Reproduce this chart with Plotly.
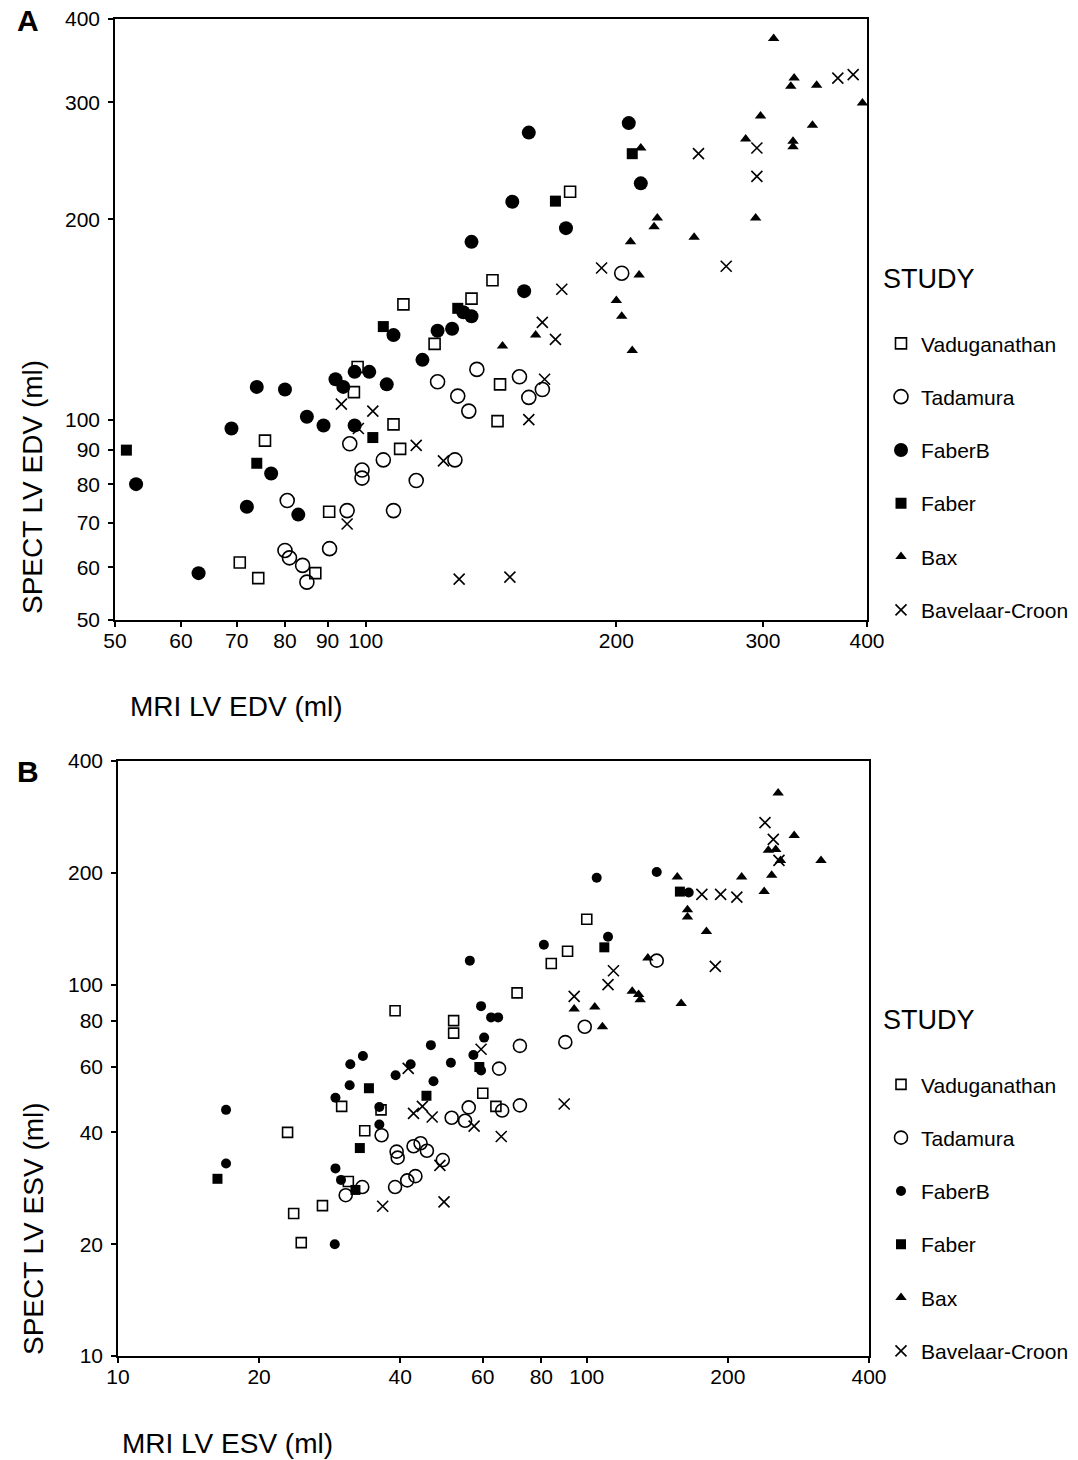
import math
import plotly.graph_objects as go

# ---------------- Data ----------------
studies = ["Vaduganathan", "Tadamura", "FaberB", "Faber", "Bax", "Bavelaar-Croon"]

# Panel A: EDV
vad_a_x = [70.6, 74.3, 75.7, 87, 90.4, 96.8, 97.8, 108, 110, 111, 121, 134, 142, 145, 144, 176]
vad_a_y = [61, 57.8, 93, 58.8, 72.7, 110, 120, 98.4, 90.4, 149, 130, 152, 162, 113, 99.5, 220]

tad_a_x = [80.5, 80, 81, 84, 85, 90.5, 95.7, 95, 99, 99, 105, 108, 115, 122, 129, 133, 136, 128, 153, 157, 163, 203]
tad_a_y = [75.6, 63.6, 62, 60.4, 57, 64, 92, 73, 84, 81.7, 87, 73, 81, 114, 108.5, 103, 119, 87, 116, 108, 111, 166]

fabb_a_x = [53, 63, 69, 74, 72, 77, 80, 83, 85, 89, 92, 94, 97, 97, 101, 106, 117, 122, 127, 108,
            131, 134, 157, 207, 150, 214, 134, 174, 155]
fabb_a_y = [80, 58.8, 97, 112, 74, 83, 111, 72, 101, 98, 115, 112, 118, 98, 118, 113, 123, 136, 137, 134,
            145, 143, 270, 279, 212.5, 226.5, 185, 194, 156]

fab_a_x = [51.6, 74, 102, 105, 129, 169, 209]
fab_a_y = [90, 86, 94, 138, 147, 213, 251]

bax_a_x = [309, 327, 324, 348, 395, 298, 344, 286, 326, 326, 214, 294, 224, 222, 208, 248, 213, 200, 203, 160, 146, 209]
bax_a_y = [374, 326, 317, 318, 299, 286, 277, 264, 262, 257, 256, 201, 201, 195, 185, 188, 165, 151, 143, 134, 129, 127]

bav_a_x = [369, 385, 251, 295, 295, 271, 192, 172, 163, 169, 164, 157, 129.5, 149, 93.5, 102, 98, 95, 115, 124]
bav_a_y = [326, 330, 251, 256, 232, 170, 169, 157, 140, 132, 115, 100, 57.6, 58, 105.5, 103, 97, 69.7, 91.5, 86.7]

# Panel B: ESV
vad_b_x = [39, 52, 52, 71, 100, 91, 84, 60, 64, 30, 36.4, 33.6, 23, 31, 27.3, 23.7, 24.6]
vad_b_y = [85, 80, 74, 95, 150, 123, 114, 51, 47, 47, 46, 40.4, 40, 29.5, 25.4, 24.2, 20.2]

tad_b_x = [72, 65, 99, 90, 141, 72, 66, 56, 51.5, 55, 36.5, 39.3, 39.5, 42.7, 44.2, 45.6, 49.3, 33.2, 30.6, 39, 41.4, 43.1]
tad_b_y = [68.4, 59.4, 77, 70, 116, 47.3, 45.8, 46.7, 43.8, 43, 39.3, 35.5, 34.2, 36.7, 37.4, 35.7, 33.7, 28.5, 27.1, 28.5, 29.7, 30.5]

fabb_b_x = [56.3, 141, 105, 165, 111, 81, 59.5, 62.5, 64.7, 60.4, 46.5, 57.3, 33.3, 31.3, 42.1, 51.3, 59.5, 39.1,
            47.1, 31.2, 29.1, 36.1, 36.1, 29.1, 29.9, 29, 17, 17]
fabb_b_y = [116, 201, 194, 177, 134.5, 128, 87.5, 81.6, 81.6, 72, 68.7, 64.6, 64.2, 61, 61, 61.6, 58.7, 57,
            54.9, 53.6, 49.6, 46.8, 42, 32, 29.8, 20, 46, 33]

fab_b_x = [158, 109, 59, 34.3, 45.5, 32.8, 32.1, 16.3]
fab_b_y = [178, 126, 60, 52.6, 50.2, 36.3, 28, 30]

bax_b_x = [256, 277, 244, 253, 259, 316, 156, 214, 248, 239, 164, 164, 180, 135, 125, 129, 130, 159, 94, 104, 108]
bax_b_y = [328, 252, 230, 231, 216, 216, 195, 195, 197, 178, 159, 152, 139, 118, 96, 94, 91, 89, 86, 87, 77]

bav_b_x = [240, 250, 257, 176, 193, 209, 188, 114, 111, 94, 59.5, 41.6, 42.7, 44.6, 46.8, 57.5, 65.7, 89.5, 48.6, 36.7, 49.6]
bav_b_y = [273, 246, 216, 175, 175, 172, 112, 109, 100, 93, 67, 59.5, 45, 47, 44, 41.6, 39, 47.7, 32.6, 25.3, 26]

ticks_a = [50, 60, 70, 80, 90, 100, 200, 300, 400]
ticks_b = [10, 20, 40, 60, 80, 100, 200, 400]

# ---------------- Styles ----------------
FONT = "Liberation Sans, Arial, Helvetica, sans-serif"
W, H = 1078, 1460

styles_a = {
    "Vaduganathan": dict(symbol="square-open", size=11, line=dict(width=1.6, color="black")),
    "Tadamura": dict(symbol="circle-open", size=14, line=dict(width=1.6, color="black")),
    "FaberB": dict(symbol="circle", size=14, line=dict(width=0)),
    "Faber": dict(symbol="square", size=11, line=dict(width=0)),
    "Bax": dict(symbol="triangle-up", size=10, line=dict(width=0)),
    "Bavelaar-Croon": dict(symbol="x-thin-open", size=11, line=dict(width=1.6, color="black")),
}
styles_b = {
    "Vaduganathan": dict(symbol="square-open", size=10, line=dict(width=1.6, color="black")),
    "Tadamura": dict(symbol="circle-open", size=13, line=dict(width=1.6, color="black")),
    "FaberB": dict(symbol="circle", size=10, line=dict(width=0)),
    "Faber": dict(symbol="square", size=10, line=dict(width=0)),
    "Bax": dict(symbol="triangle-up", size=10, line=dict(width=0)),
    "Bavelaar-Croon": dict(symbol="x-thin-open", size=11, line=dict(width=1.6, color="black")),
}

data_a = {
    "Vaduganathan": (vad_a_x, vad_a_y), "Tadamura": (tad_a_x, tad_a_y), "FaberB": (fabb_a_x, fabb_a_y),
    "Faber": (fab_a_x, fab_a_y), "Bax": (bax_a_x, bax_a_y), "Bavelaar-Croon": (bav_a_x, bav_a_y),
}
data_b = {
    "Vaduganathan": (vad_b_x, vad_b_y), "Tadamura": (tad_b_x, tad_b_y), "FaberB": (fabb_b_x, fabb_b_y),
    "Faber": (fab_b_x, fab_b_y), "Bax": (bax_b_x, bax_b_y), "Bavelaar-Croon": (bav_b_x, bav_b_y),
}

fig = go.Figure()
for name in studies:
    x, y = data_a[name]
    fig.add_trace(go.Scatter(x=x, y=y, mode="markers", name=name, xaxis="x", yaxis="y",
                             marker=dict(color="black", **styles_a[name]),
                             legend="legend", legendgroup="a_" + name, showlegend=True))
for name in studies:
    x, y = data_b[name]
    fig.add_trace(go.Scatter(x=x, y=y, mode="markers", name=name, xaxis="x2", yaxis="y2",
                             marker=dict(color="black", **styles_b[name]),
                             legend="legend2", legendgroup="b_" + name, showlegend=True))


def px_x(p):
    return p / W


def px_y(p):
    return 1 - p / H


axis_common = dict(type="log", showgrid=False, zeroline=False, showline=True, linecolor="black",
                   linewidth=1.5, mirror=True, ticks="outside", ticklen=5, tickwidth=2, tickcolor="black",
                   automargin=False, tickfont=dict(family=FONT, size=21, color="black"))

legend_common = dict(xanchor="left", yanchor="top",
                     title=dict(text="STUDY<br>&nbsp;", font=dict(family=FONT, size=27, color="black")),
                     font=dict(family=FONT, size=21, color="black"), tracegroupgap=23,
                     bgcolor="rgba(0,0,0,0)", itemsizing="trace")

fig.update_layout(
    width=W, height=H, margin=dict(l=0, r=0, t=0, b=0, autoexpand=False),
    paper_bgcolor="white", plot_bgcolor="white",
    font=dict(family=FONT, color="black"),
    xaxis=dict(domain=[px_x(115), px_x(867)], anchor="y", range=[math.log10(50), math.log10(400)],
               tickvals=ticks_a, ticktext=[str(t) for t in ticks_a], ticklabelstandoff=-4, **axis_common),
    yaxis=dict(domain=[px_y(620), px_y(19)], anchor="x", range=[math.log10(50), math.log10(400)],
               tickvals=ticks_a, ticktext=[str(t) for t in ticks_a], ticklabelstandoff=4, **axis_common),
    xaxis2=dict(domain=[px_x(118), px_x(869)], anchor="y2", range=[1, math.log10(400)],
                tickvals=ticks_b, ticktext=[str(t) for t in ticks_b], ticklabelstandoff=-4, **axis_common),
    yaxis2=dict(domain=[px_y(1356), px_y(761)], anchor="x2", range=[1, math.log10(400)],
                tickvals=ticks_b, ticktext=[str(t) for t in ticks_b], ticklabelstandoff=4, **axis_common),
    legend=dict(x=px_x(881), y=px_y(253), **legend_common),
    legend2=dict(x=px_x(881), y=px_y(994), **legend_common),
)

ann_font = dict(family=FONT, size=28, color="black")
annotations = [
    dict(text="<b>A</b>", x=px_x(28), y=px_y(21), font=dict(family=FONT, size=30, color="black")),
    dict(text="<b>B</b>", x=px_x(28), y=px_y(771), font=dict(family=FONT, size=30, color="black")),
    dict(text="MRI LV EDV (ml)", x=px_x(236), y=px_y(706), font=ann_font),
    dict(text="MRI LV ESV (ml)", x=px_x(227), y=px_y(1443), font=ann_font),
    dict(text="SPECT LV EDV (ml)", x=px_x(33), y=px_y(487), textangle=-90, font=ann_font),
    dict(text="SPECT LV ESV (ml)", x=px_x(33), y=px_y(1229), textangle=-90, font=ann_font),
]
for a in annotations:
    a.update(xref="paper", yref="paper", showarrow=False, xanchor="center", yanchor="middle")
fig.update_layout(annotations=annotations)

fig.write_html("out.html")
